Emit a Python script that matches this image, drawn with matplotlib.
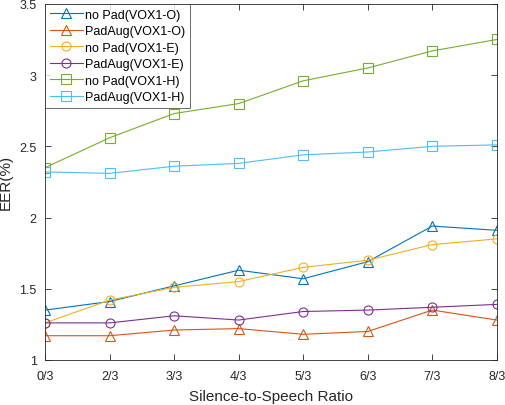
import numpy as np
import matplotlib
matplotlib.use("Agg")
import matplotlib.pyplot as plt

plt.rcParams['font.family'] = ['Liberation Sans', 'DejaVu Sans']

ratios = ['0/3', '2/3', '3/3', '4/3', '5/3', '6/3', '7/3', '8/3']
nopad_o = [1.35, 1.41, 1.52, 1.63, 1.57, 1.69, 1.94, 1.91]
padaug_o = [1.17, 1.17, 1.21, 1.22, 1.18, 1.20, 1.35, 1.28]
nopad_e = [1.26, 1.42, 1.51, 1.55, 1.65, 1.70, 1.81, 1.85]
padaug_e = [1.26, 1.26, 1.31, 1.28, 1.34, 1.35, 1.37, 1.39]
nopad_h = [2.35, 2.56, 2.73, 2.80, 2.96, 3.05, 3.17, 3.25]
padaug_h = [2.32, 2.31, 2.36, 2.38, 2.44, 2.46, 2.50, 2.51]

series = [
    ('no Pad(VOX1-O)', nopad_o, '#0072BD', '^'),
    ('PadAug(VOX1-O)', padaug_o, '#D95319', '^'),
    ('no Pad(VOX1-E)', nopad_e, '#EDB120', 'o'),
    ('PadAug(VOX1-E)', padaug_e, '#7E2F8E', 'o'),
    ('no Pad(VOX1-H)', nopad_h, '#77AC30', 's'),
    ('PadAug(VOX1-H)', padaug_h, '#4DBEEE', 's'),
]

fig = plt.figure(figsize=(5.06, 4.06), dpi=100)
ax = fig.add_axes([0.089, 0.111, 0.893, 0.877])
x = np.arange(len(ratios))
for name, vals, col, mk in series:
    ax.plot(x, vals, color=col, marker=mk, markersize=6.5, markerfacecolor='none',
            markeredgewidth=0.8, linewidth=0.8, label=name)

ax.set_xlim(0, len(ratios) - 1)
ax.set_ylim(1, 3.5)
ax.set_xticks(x)
ax.set_xticklabels(ratios)
ax.set_yticks([1, 1.5, 2, 2.5, 3, 3.5])
ax.set_yticklabels(['1', '1.5', '2', '2.5', '3', '3.5'])
ax.tick_params(direction='in', top=True, right=True, length=4, width=0.6,
               labelsize=9, colors='#262626')
ax.tick_params(axis='x', pad=7)
ax.tick_params(axis='y', pad=6)
for sp in ax.spines.values():
    sp.set_color('#262626')
    sp.set_linewidth(0.6)
ax.set_xlabel('Silence-to-Speech Ratio', fontsize=11, color='#262626', labelpad=5)
ax.set_ylabel('EER(%)', fontsize=11, color='#262626')
ax.yaxis.set_label_coords(-0.072, 0.5)

leg = ax.legend(loc='upper left', fontsize=9, frameon=True, fancybox=False,
                edgecolor='#262626', borderaxespad=0, handlelength=2.6,
                labelspacing=0.36, borderpad=0.4, handletextpad=0.2)
leg.get_frame().set_linewidth(0.6)

fig.savefig('out.png', dpi=100)
